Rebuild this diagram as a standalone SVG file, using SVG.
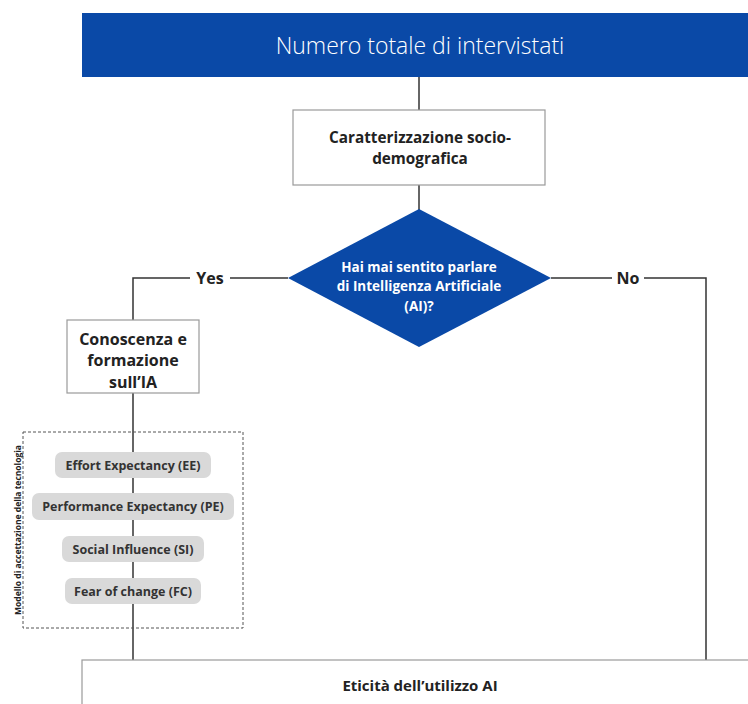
<svg xmlns="http://www.w3.org/2000/svg" width="748" height="704" viewBox="0 0 748 704">
  <style>
    .lbl { font-family: "Open Sans", "Noto Sans", "Liberation Sans", sans-serif; font-weight: 700; fill: #222; text-anchor: middle; }
    .box { fill: #fff; stroke: #9a9a9a; stroke-width: 1.2; }
    .pill { fill: #d9d9d9; }
    .pilltxt { font-family: "Open Sans", "Noto Sans", "Liberation Sans", sans-serif; font-weight: 700; font-size: 12.5px; fill: #333; text-anchor: middle; }
    .wire { fill: none; stroke: #333; stroke-width: 1.5; }
  </style>
  <rect width="748" height="704" fill="#fff"/>

  <!-- connectors -->
  <g id="connectors">
    <line class="wire" x1="419" y1="77" x2="419" y2="110"/>
    <line class="wire" x1="419" y1="185" x2="419" y2="210"/>
    <polyline class="wire" points="288,278 133,278 133,320"/>
    <polyline class="wire" points="551,278 706,278 706,660"/>
    <line class="wire" x1="133" y1="393" x2="133" y2="660"/>
    <rect x="190" y="268" width="40" height="20" fill="#fff"/>
    <text class="lbl" x="210" y="284" font-size="16">Yes</text>
    <rect x="612" y="268" width="32" height="20" fill="#fff"/>
    <text class="lbl" x="628" y="284" font-size="16">No</text>
  </g>

  <g id="header">
    <rect x="82" y="13" width="670" height="64" fill="#0a49a7"/>
    <text x="420" y="54" font-family="'Open Sans', 'Noto Sans', 'Liberation Sans', sans-serif" font-weight="300" font-size="23" fill="#fff" text-anchor="middle">Numero totale di intervistati</text>
  </g>

  <g id="sociodemo">
    <rect class="box" x="293" y="110" width="252" height="75"/>
    <text class="lbl" x="420" y="143" font-size="15.3">Caratterizzazione socio-</text>
    <text class="lbl" x="420" y="164" font-size="15.3">demografica</text>
  </g>

  <g id="question">
    <polygon points="419,209 551,278 419,347 288,278" fill="#0a49a7"/>
    <text class="lbl" x="419" y="272" font-size="13.5" style="fill:#fff">Hai mai sentito parlare</text>
    <text class="lbl" x="419" y="291" font-size="13.5" style="fill:#fff">di Intelligenza Artificiale</text>
    <text class="lbl" x="419" y="311" font-size="13.5" style="fill:#fff">(AI)?</text>
  </g>

  <g id="conoscenza">
    <rect class="box" x="67" y="320" width="132" height="73"/>
    <text class="lbl" x="133" y="345" font-size="16">Conoscenza e</text>
    <text class="lbl" x="133" y="366" font-size="16">formazione</text>
    <text class="lbl" x="133" y="388" font-size="16">sull’IA</text>
  </g>

  <g id="modello">
    <rect x="23" y="432" width="220" height="196" fill="none" stroke="#555" stroke-width="1" stroke-dasharray="3,2"/>
    <text transform="translate(21,530) rotate(-90)" font-family="'Open Sans', 'Noto Sans', 'Liberation Sans', sans-serif" font-weight="700" font-size="8.5" fill="#222" text-anchor="middle">Modello di accettazione della tecnologia</text>
  </g>

  <g id="ee">
    <rect class="pill" x="55" y="452" width="156" height="26" rx="7"/>
    <text class="pilltxt" x="133" y="469.5">Effort Expectancy (EE)</text>
  </g>
  <g id="pe">
    <rect class="pill" x="32" y="493" width="202" height="27" rx="7"/>
    <text class="pilltxt" x="133" y="511">Performance Expectancy (PE)</text>
  </g>
  <g id="si">
    <rect class="pill" x="62" y="536" width="142" height="26" rx="7"/>
    <text class="pilltxt" x="133" y="553.5">Social Influence (SI)</text>
  </g>
  <g id="fc">
    <rect class="pill" x="65" y="578" width="136" height="26" rx="7"/>
    <text class="pilltxt" x="133" y="595.5">Fear of change (FC)</text>
  </g>

  <g id="eticita">
    <rect class="box" x="82" y="660" width="670" height="50"/>
    <text class="lbl" x="420" y="691" font-size="15">Eticità dell’utilizzo AI</text>
  </g>
</svg>
